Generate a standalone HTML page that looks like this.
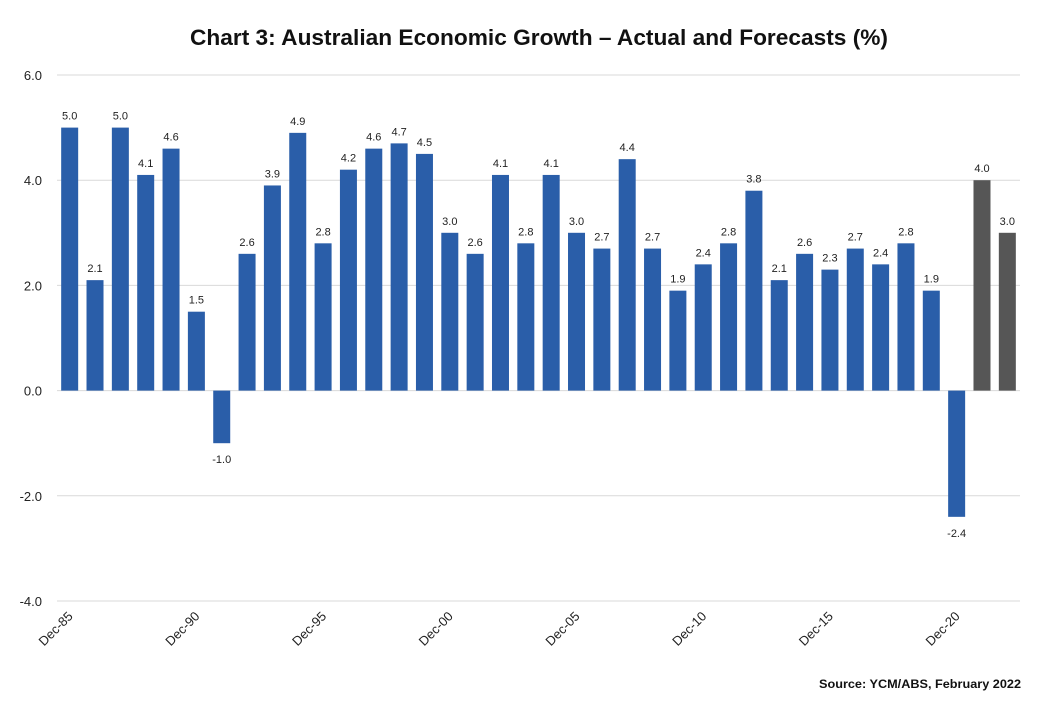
<!DOCTYPE html>
<html><head><meta charset="utf-8"><style>
body{margin:0;background:#fff;}
svg{display:block;font-family:"Liberation Sans",sans-serif;}
</style></head><body>
<svg id="c" width="1045" height="705">
<text x="539" y="45" text-anchor="middle" font-size="22" font-weight="bold" textLength="698" lengthAdjust="spacingAndGlyphs" fill="#111">Chart 3: Australian Economic Growth – Actual and Forecasts (%)</text>
<text x="1021" y="688" text-anchor="end" font-size="12" font-weight="bold" fill="#111" textLength="202" lengthAdjust="spacingAndGlyphs">Source: YCM/ABS, February 2022</text>
<g id="grid"></g><g id="bars"></g><g id="labels"></g><g id="xt"></g>
</svg>
<script>
const years = [1985,1986,1987,1988,1989,1990,1991,1992,1993,1994,1995,1996,1997,1998,1999,2000,2001,2002,2003,2004,2005,2006,2007,2008,2009,2010,2011,2012,2013,2014,2015,2016,2017,2018,2019,2020,2021,2022];
const growth = [5.0,2.1,5.0,4.1,4.6,1.5,-1.0,2.6,3.9,4.9,2.8,4.2,4.6,4.7,4.5,3.0,2.6,4.1,2.8,4.1,3.0,2.7,4.4,2.7,1.9,2.4,2.8,3.8,2.1,2.6,2.3,2.7,2.4,2.8,1.9,-2.4,4.0,3.0];
const forecast = [false,false,false,false,false,false,false,false,false,false,false,false,false,false,false,false,false,false,false,false,false,false,false,false,false,false,false,false,false,false,false,false,false,false,false,false,true,true];
const yTicks = [6,4,2,0,-2,-4];
const NS='http://www.w3.org/2000/svg';
const x0=57,x1=1020,y6=75,yM4=601;
const step=(x1-x0)/years.length;
const y=v=>y6+(6-v)*(yM4-y6)/10;
function mk(t,a,p,txt){const e=document.createElementNS(NS,t);for(const k in a)e.setAttribute(k,a[k]);if(txt!==undefined)e.textContent=txt;document.getElementById(p).appendChild(e);return e;}
yTicks.forEach(v=>{
  const l=mk('line',{x1:x0,x2:x1,y1:y(v),y2:y(v),stroke:'#d9d9d9','stroke-width':1},'grid');
  
  
  const t=mk('text',{x:42,y:y(v)+5,'text-anchor':'end','font-size':13,fill:'#222'},'grid',v.toFixed(1));
  
  
});
years.forEach((yr,i)=>{
  const v=growth[i],cx=x0+step*(i+0.5),w=17;
  const top=Math.min(y(v),y(0)),h=Math.abs(y(v)-y(0));
  const r=mk('rect',{x:cx-w/2,y:top,width:w,height:h,fill:forecast[i]?'#565656':'#2a5ea9'},'bars');
  
  
  const ly=v>=0?y(v)-8:y(v)+20;
  const t=mk('text',{x:cx,y:ly,'text-anchor':'middle','font-size':11,fill:'#222'},'labels',v.toFixed(1));
  
  
  if(yr%5===0){
    const lab='Dec-'+String(yr).slice(2);
    const tx=mk('text',{x:cx+4,y:617,'text-anchor':'end','font-size':13,fill:'#222',transform:`rotate(-45 ${cx+4} 617)`},'xt',lab);
    
    
  }
});
</script>
</body></html>
